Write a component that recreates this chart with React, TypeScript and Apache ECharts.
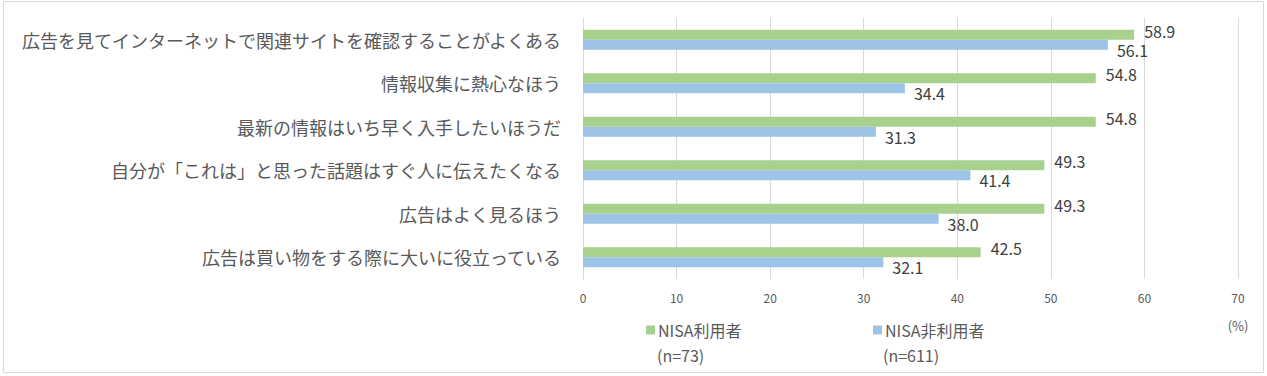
import React, { useEffect, useRef } from "react";
import * as echarts from "echarts";

const categories = [
  "広告を見てインターネットで関連サイトを確認することがよくある",
  "情報収集に熱心なほう",
  "最新の情報はいち早く入手したいほうだ",
  "自分が「これは」と思った話題はすぐ人に伝えたくなる",
  "広告はよく見るほう",
  "広告は買い物をする際に大いに役立っている",
];
const seriesNames = ["NISA利用者", "NISA非利用者"];
const sampleSizes = ["(n=73)", "(n=611)"];
const users = [58.9, 54.8, 54.8, 49.3, 49.3, 42.5];
const nonUsers = [56.1, 34.4, 31.3, 41.4, 38.0, 32.1];
const xTicks = { min: 0, max: 70, interval: 10 };
const unitLabel = "(%)";

const FONT = "'Noto Sans CJK JP', 'Noto Sans', sans-serif";
const TXT = "#595959";

export default function App() {
  const ref = useRef<HTMLDivElement>(null);
  useEffect(() => {
    document.body.style.margin = "0";
    const chart = echarts.init(ref.current!, undefined, { renderer: "svg" });
    chart.setOption({
      animation: false,
      textStyle: { fontFamily: FONT },
      grid: { left: 583, right: 29, top: 18, bottom: 97 },
      xAxis: {
        type: "value",
        min: xTicks.min,
        max: xTicks.max,
        interval: xTicks.interval,
        axisLine: { show: false },
        axisTick: { show: false },
        axisLabel: { color: TXT, fontSize: 12, margin: 12, fontFamily: FONT },
        splitLine: { lineStyle: { color: "#d9d9d9", width: 1 } },
      },
      yAxis: {
        type: "category",
        data: categories,
        inverse: true,
        axisLine: { show: true, lineStyle: { color: "#d9d9d9" } },
        axisTick: { show: false },
        axisLabel: { color: TXT, fontSize: 18, margin: 22, fontFamily: FONT },
      },
      legend: [
        {
          data: [seriesNames[0]],
          left: 641,
          top: 317,
          itemWidth: 9,
          itemHeight: 9,
          icon: "rect",
          textStyle: { color: TXT, fontSize: 16, fontFamily: FONT, padding: [0, 0, 0, -2] },
        },
        {
          data: [seriesNames[1]],
          left: 868,
          top: 317,
          itemWidth: 9,
          itemHeight: 9,
          icon: "rect",
          textStyle: { color: TXT, fontSize: 16, fontFamily: FONT, padding: [0, 0, 0, -2] },
        },
      ],
      graphic: [
        {
          type: "rect",
          shape: { x: 3.5, y: 1.5, width: 1260, height: 371 },
          style: { fill: "none", stroke: "#d9d9d9", lineWidth: 1 },
          silent: true,
        },
        {
          type: "text",
          x: 657,
          y: 355,
          style: { text: sampleSizes[0], fill: TXT, fontSize: 16, fontFamily: FONT, verticalAlign: "middle" },
        },
        {
          type: "text",
          x: 883,
          y: 355,
          style: { text: sampleSizes[1], fill: TXT, fontSize: 16, fontFamily: FONT, verticalAlign: "middle" },
        },
        {
          type: "text",
          x: 1238,
          y: 325,
          style: { text: unitLabel, fill: TXT, fontSize: 13, fontFamily: FONT, align: "center", verticalAlign: "middle" },
        },
      ],
      series: [
        {
          name: seriesNames[0],
          type: "bar",
          data: users,
          barWidth: 10,
          barGap: "0%",
          itemStyle: { color: "#A9D18E" },
          label: {
            show: true,
            position: "right",
            distance: 10,
            offset: [0, -4],
            color: "#404040",
            fontSize: 16,
            fontFamily: FONT,
            formatter: (p: any) => p.value.toFixed(1),
          },
        },
        {
          name: seriesNames[1],
          type: "bar",
          data: nonUsers,
          barWidth: 10,
          barGap: "0%",
          itemStyle: { color: "#9DC3E6" },
          label: {
            show: true,
            position: "right",
            distance: 9,
            offset: [0, 5],
            color: "#404040",
            fontSize: 16,
            fontFamily: FONT,
            formatter: (p: any) => p.value.toFixed(1),
          },
        },
      ],
    });
    return () => chart.dispose();
  }, []);
  return <div ref={ref} style={{ width: 1267, height: 376 }} />;
}
